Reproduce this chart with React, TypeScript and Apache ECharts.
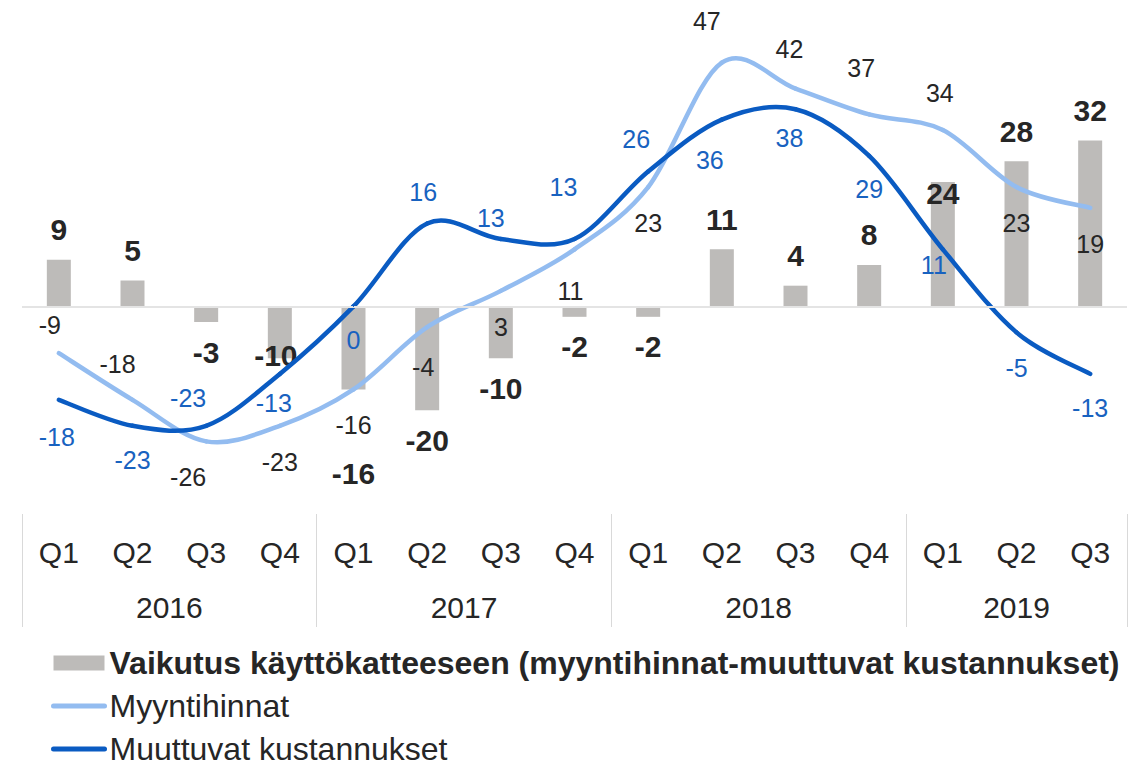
import React, { useEffect, useRef } from 'react';
import * as echarts from 'echarts';

// ---- data ----
const years = ['2016', '2017', '2018', '2019'];
const quartersPerYear = [4, 4, 4, 3];
const quarterNames = ['Q1', 'Q2', 'Q3', 'Q4'];
const vaikutus = [9, 5, -3, -10, -16, -20, -10, -2, -2, 11, 4, 8, 24, 28, 32];
const myyntihinnat = [-9, -18, -26, -23, -16, -4, 3, 11, 23, 47, 42, 37, 34, 23, 19];
const muuttuvat = [-18, -23, -23, -13, 0, 16, 13, 13, 26, 36, 38, 29, 11, -5, -13];
const seriesNames = [
  'Vaikutus käyttökatteeseen (myyntihinnat-muuttuvat kustannukset)',
  'Myyntihinnat',
  'Muuttuvat kustannukset',
];

// ---- label layout (styling only) ----
const myyntiLabelPos = ['top', 'top', 'bottom', 'bottom', 'bottom', 'bottom', 'bottom', 'bottom', 'bottom', 'top', 'top', 'top', 'top', 'bottom', 'bottom'];
const myyntiLabelNudge = [[-9, 8], [-15, 0], [-18, 0], [0, 0], [0, 0], [-4, 4], [0, 0], [-4, 6], [0, 0], [-15, -6], [-6, -4], [-8, -10], [-3, -1], [0, 0], [0, 0]];
const muuttuvatLabelPos = ['bottom', 'bottom', 'top', 'bottom', 'bottom', 'top', 'top', 'top', 'top', 'bottom', 'bottom', 'bottom', 'bottom', 'bottom', 'bottom'];
const muuttuvatLabelNudge = [[-2, 1], [0, -2], [-18, 8], [-6, -7], [0, -2], [-4, 5], [-10, 15], [-11, -16], [-12, 3], [-12, 4], [-6, -7], [0, -3], [-9, -20], [0, 0], [0, -2]];
const barLabelNudge: Record<number, number[]> = { 3: [-4, -33], 4: [0, 54], 12: [0, 42] };

const FONT = '"Liberation Sans", Arial, Helvetica, sans-serif';
const TEXT = '#262626';
const BAR = '#BDBBB9';
const LIGHT = '#93BCF0';
const DARK = '#0A5BC2';
const DARK_LABEL = '#1862C0';
const LINE_W = 4.5;
const TENSION = 1 / 6;

// categories built from years × quarters
const categories: string[] = [];
const yearStarts: number[] = [];
const yearCenters: Record<string, string> = {};
years.forEach((y, i) => {
  yearStarts.push(categories.length);
  yearCenters[String(categories.length + quartersPerYear[i] / 2)] = y;
  for (let q = 0; q < quartersPerYear[i]; q++) categories.push(`${y} ${quarterNames[q]}`);
});

// smooth curve (Catmull-Rom → cubic Bézier), one segment per data item, via the axes' coord()
function curveRenderer(values: number[], color: string) {
  return (params: any, api: any) => {
    const i = params.dataIndex;
    const n = values.length;
    if (i >= n - 1) return null;
    const p = (j: number) => {
      const k = Math.max(0, Math.min(n - 1, j));
      return api.coord([k, values[k]]);
    };
    const p0 = p(i - 1), p1 = p(i), p2 = p(i + 1), p3 = p(i + 2);
    return {
      type: 'bezierCurve',
      shape: {
        x1: p1[0], y1: p1[1],
        x2: p2[0], y2: p2[1],
        cpx1: p1[0] + (p2[0] - p0[0]) * TENSION,
        cpy1: p1[1] + (p2[1] - p0[1]) * TENSION,
        cpx2: p2[0] - (p3[0] - p1[0]) * TENSION,
        cpy2: p2[1] - (p3[1] - p1[1]) * TENSION,
      },
      style: { stroke: color, lineWidth: LINE_W, fill: null, lineCap: 'round' },
      silent: true,
    };
  };
}

function labelLine(name: string, values: number[], pos: string[], nudge: number[][], color: string, labelColor: string, z: number) {
  return {
    name,
    type: 'line',
    symbol: 'circle',
    symbolSize: 1,
    showSymbol: true,
    lineStyle: { opacity: 0, width: 0 },
    itemStyle: { color },
    data: values.map((v, i) => ({
      value: v,
      label: { position: pos[i], offset: nudge[i] },
    })),
    label: {
      show: true,
      distance: 23,
      fontSize: 25,
      color: labelColor,
      fontFamily: FONT,
    },
    z,
  };
}

function curveSeries(name: string, values: number[], color: string, z: number) {
  return {
    name,
    type: 'custom',
    renderItem: curveRenderer(values, color),
    data: values.map((v, i) => [i, v]),
    encode: { x: 0, y: 1 },
    z,
  };
}

function buildOption() {
  return {
    animation: false,
    textStyle: { fontFamily: FONT },
    grid: { left: 22, right: 8, top: 47, bottom: 253, containLabel: false },
    legend: {
      orient: 'vertical',
      left: 51,
      top: 647,
      height: 125,
      padding: 0,
      itemWidth: 51,
      itemHeight: 15,
      itemGap: 11,
      selectedMode: false,
      textStyle: { fontSize: 32, color: TEXT, fontFamily: FONT },
      data: [
        { name: seriesNames[0], icon: 'rect', textStyle: { fontWeight: 'bold' } },
        { name: seriesNames[1], itemStyle: { opacity: 0 }, lineStyle: { color: LIGHT, width: 5, opacity: 1, cap: 'round' } },
        { name: seriesNames[2], itemStyle: { opacity: 0 }, lineStyle: { color: DARK, width: 5, opacity: 1, cap: 'round' } },
      ],
    },
    xAxis: [
      {
        type: 'category',
        data: categories,
        position: 'bottom',
        axisLine: { show: false, onZero: false },
        axisTick: {
          show: true,
          interval: (i: number) => yearStarts.includes(i),
          length: 113,
          lineStyle: { color: '#D9D9D9', width: 1 },
        },
        axisLabel: {
          interval: 0,
          margin: 23,
          fontSize: 30,
          color: TEXT,
          fontFamily: FONT,
          formatter: (v: string) => v.split(' ')[1],
        },
        splitLine: { show: false },
      },
      {
        type: 'value',
        position: 'bottom',
        min: 0,
        max: categories.length,
        interval: 0.5,
        axisLine: { show: false, onZero: false },
        axisTick: { show: false },
        splitLine: { show: false },
        axisLabel: {
          margin: 78,
          fontSize: 30,
          color: TEXT,
          fontFamily: FONT,
          formatter: (v: number) => yearCenters[String(v)] ?? '',
        },
      },
    ],
    yAxis: {
      type: 'value',
      min: -40,
      max: 50,
      show: false,
      splitLine: { show: false },
    },
    series: [
      {
        name: seriesNames[0],
        type: 'bar',
        barWidth: 24,
        itemStyle: { color: BAR },
        data: vaikutus.map((v, i) => ({
          value: v,
          label: barLabelNudge[i] ? { offset: barLabelNudge[i] } : undefined,
        })),
        label: {
          show: true,
          position: 'outside',
          distance: 15,
          fontSize: 30,
          fontWeight: 'bold',
          color: TEXT,
          fontFamily: FONT,
        },
        markLine: {
          silent: true,
          symbol: 'none',
          label: { show: false },
          lineStyle: { color: '#E4E4E4', width: 2, type: 'solid' },
          data: [{ yAxis: 0 }],
        },
        z: 2,
      },
      labelLine(seriesNames[1], myyntihinnat, myyntiLabelPos, myyntiLabelNudge, LIGHT, TEXT, 6),
      labelLine(seriesNames[2], muuttuvat, muuttuvatLabelPos, muuttuvatLabelNudge, DARK, DARK_LABEL, 7),
      curveSeries(seriesNames[1], myyntihinnat, LIGHT, 3),
      curveSeries(seriesNames[2], muuttuvat, DARK, 4),
    ],
  };
}

export default function App() {
  const ref = useRef<HTMLDivElement>(null);
  useEffect(() => {
    if (!ref.current) return;
    const chart = echarts.init(ref.current, null, { renderer: 'svg' });
    chart.setOption(buildOption() as any);
    return () => chart.dispose();
  }, []);
  return (
    <div
      ref={ref}
      style={{ position: 'absolute', left: 0, top: 0, width: 1135, height: 767, background: '#fff' }}
    />
  );
}
